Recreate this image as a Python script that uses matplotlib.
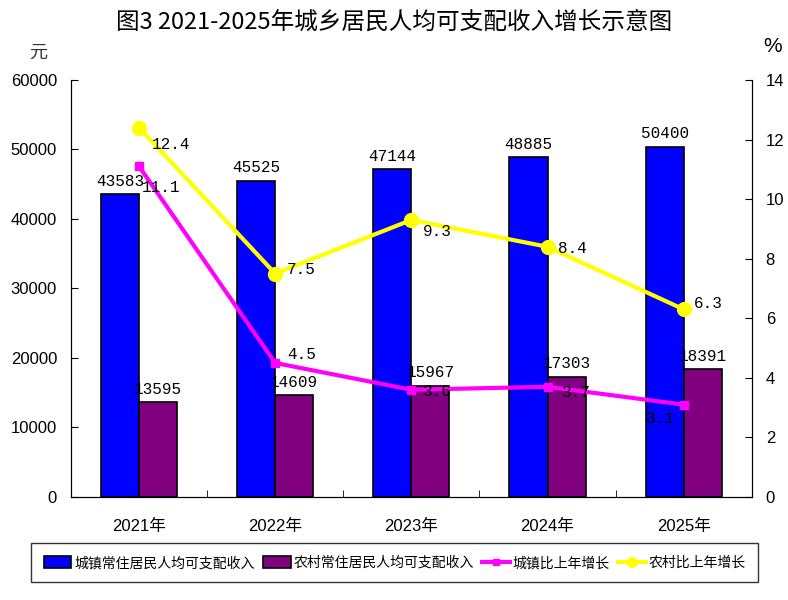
import matplotlib
matplotlib.use('Agg')
import matplotlib.pyplot as plt
import numpy as np

years = ['2021年', '2022年', '2023年', '2024年', '2025年']
urban = [43583, 45525, 47144, 48885, 50400]
rural = [13595, 14609, 15967, 17303, 18391]
urban_growth = [11.1, 4.5, 3.6, 3.7, 3.1]
rural_growth = [12.4, 7.5, 9.3, 8.4, 6.3]

# label offsets (points) for growth labels
urban_off = [(16, -15), (19, 6), (19, -1), (21, -4), (-17, -10)]
rural_off = [(23, -12), (19, 3), (19, -8), (18, -1), (18, 4)]

plt.rcParams['font.family'] = ['Liberation Sans', 'Noto Sans CJK SC', 'DejaVu Sans']
cjk = ['Noto Sans CJK SC', 'DejaVu Sans']
mono = ['Liberation Mono', 'DejaVu Sans Mono']

fig = plt.figure(figsize=(7.88, 6.0), dpi=100)
ax = fig.add_axes([0.090, 0.1717, 0.864, 0.695])

x = np.arange(len(years))
w = 0.28
b1 = ax.bar(x - w / 2, urban, w, color='#0000FF', edgecolor='black', linewidth=1.2,
            label='城镇常住居民人均可支配收入')
b2 = ax.bar(x + w / 2, rural, w, color='#800080', edgecolor='black', linewidth=1.2,
            label='农村常住居民人均可支配收入')
for i in range(len(x)):
    ax.annotate(str(urban[i]), (x[i] - w / 2, urban[i]), xytext=(0, 4),
                textcoords='offset points', ha='center', va='bottom',
                fontsize=11.5, family=mono)
    ax.annotate(str(rural[i]), (x[i] + w / 2, rural[i]), xytext=(0, 4),
                textcoords='offset points', ha='center', va='bottom',
                fontsize=11.5, family=mono)

ax.set_xlim(-0.5, 4.5)
ax.set_ylim(0, 60000)
ax.set_yticks(range(0, 60001, 10000))
ax.set_xticks(x)
ax.set_xticklabels(years, fontsize=12)
ax.set_xticks(x[:-1] + 0.5, minor=True)
ax.tick_params(axis='x', which='major', length=0, pad=16)
ax.tick_params(axis='x', which='minor', direction='in', length=5)
ax.tick_params(axis='y', direction='in', length=5, labelsize=12, pad=10)
ax.spines['top'].set_visible(False)

ax2 = ax.twinx()
l1, = ax2.plot(x, urban_growth, color='#FF00FF', linewidth=3, marker='s', markersize=6,
               label='城镇比上年增长')
l2, = ax2.plot(x, rural_growth, color='#FFFF00', linewidth=3, marker='o', markersize=10,
               label='农村比上年增长')
for i in range(len(x)):
    ax2.annotate('%.1f' % urban_growth[i], (x[i], urban_growth[i]), xytext=urban_off[i],
                 textcoords='offset points', ha='center', va='center',
                 fontsize=11.5, family=mono)
    ax2.annotate('%.1f' % rural_growth[i], (x[i], rural_growth[i]), xytext=rural_off[i],
                 textcoords='offset points', ha='center', va='center',
                 fontsize=11.5, family=mono)
ax2.set_ylim(0, 14)
ax2.set_yticks(range(0, 15, 2))
ax2.tick_params(axis='y', direction='in', length=5, labelsize=12, pad=10)
ax2.spines['top'].set_visible(False)

fig.text(0.5, 0.963, '图3 2021-2025年城乡居民人均可支配收入增长示意图', ha='center', va='center',
         fontsize=17, family=cjk)
fig.text(0.048, 0.912, '元', ha='center', va='center', fontsize=13, family=cjk, color='#333333')
fig.text(0.980, 0.922, '%', ha='center', va='center', fontsize=15)

leg = fig.legend(handles=[b1, b2, l1, l2], loc='center', bbox_to_anchor=(0.501, 0.0617),
                 ncol=4, frameon=True, fancybox=False, edgecolor='black',
                 handlelength=2.0, handleheight=0.9, handletextpad=0.2, columnspacing=0.6,
                 markerscale=0.7, borderpad=0.9, borderaxespad=0,
                 prop={'family': cjk, 'size': 10})
leg.get_frame().set_linewidth(1.0)

fig.savefig('out.png', dpi=100)
